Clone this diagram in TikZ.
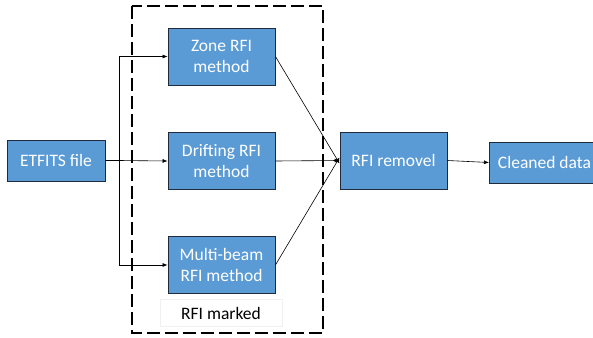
\documentclass[tikz,border=0pt]{standalone}
\usepackage{fontspec}
\setmainfont{Carlito}
\usetikzlibrary{arrows.meta}
\definecolor{boxblue}{HTML}{5B9BD5}
\definecolor{boxedge}{HTML}{1F2A3A}
\begin{document}
\begin{tikzpicture}[x=1pt,y=-1pt,
  proc/.style={draw=boxedge, line width=0.9pt, fill=boxblue, text=white,
    minimum width=107pt, minimum height=57pt, inner sep=1pt, align=center,
    font=\fontsize{17.5}{21.5}\selectfont},
  flow/.style={-{Latex[length=5pt,width=4pt]}, line width=0.6pt}]
\useasboundingbox (0,0) rectangle (593,337);
% group frame
\draw[dash pattern=on 13pt off 5pt, line width=1.1pt] (132,6) rectangle (323,333);
\node[draw=black!6, fill=white, minimum width=122pt, minimum height=27pt,
  font=\fontsize{17.5}{21.5}\selectfont] (mark) at (221,313) {RFI marked};
% boxes
\node[proc, minimum width=98pt, minimum height=41pt] (in) at (56,160.5) {ETFITS file};
\node[proc] (zone) at (221.5,56.5) {Zone RFI\\method};
\node[proc] (drift) at (221.5,161) {Drifting RFI\\method};
\node[proc] (multi) at (221.5,265) {Multi-beam\\RFI method};
\node[proc] (rem) at (393.5,160.5) {RFI removel};
\node[proc, minimum width=110pt, minimum height=41pt, anchor=west] (out) at (489,162.5) {Cleaned data};
% fan-out
\coordinate (fork) at (119,160.5);
\draw[line width=0.6pt] (in.east) -- (fork);
\draw[flow] (fork) |- (zone.west);
\draw[flow] (fork) -- (drift.west);
\draw[flow] (fork) |- (multi.west);
% merge
\draw[flow] (zone.east) -- ([yshift=-3pt]rem.west);
\draw[flow] (drift.east) -- (rem.west);
\draw[flow] (multi.east) -- ([yshift=3pt]rem.west);
\draw[flow] (rem.east) -- (out.west);
\end{tikzpicture}
\end{document}
